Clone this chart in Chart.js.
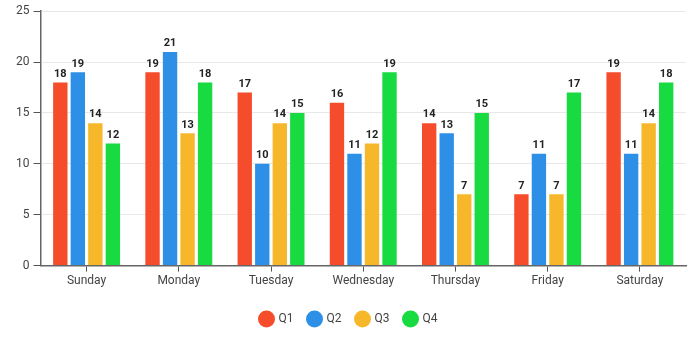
<!DOCTYPE html>
<html>
<head>
<meta charset="utf-8">
<script src="https://cdn.jsdelivr.net/npm/chart.js@4/dist/chart.umd.min.js"></script>
<style>
  html, body { margin: 0; padding: 0; background: #fff; }
  #wrap { width: 700px; height: 338px; }
</style>
</head>
<body>
<div id="wrap"><canvas id="chart"></canvas></div>
<script>
// Data
const days = ["Sunday", "Monday", "Tuesday", "Wednesday", "Thursday", "Friday", "Saturday"];
const q1 = [18, 19, 17, 16, 14, 7, 19];
const q2 = [19, 21, 10, 11, 13, 11, 11];
const q3 = [14, 13, 14, 12, 7, 7, 14];
const q4 = [12, 18, 15, 19, 15, 17, 18];
const seriesNames = ["Q1", "Q2", "Q3", "Q4"];
const seriesColors = ["#f54d2b", "#2d8fe6", "#f6b82a", "#18da41"];

// Draw value labels above each bar
const valueLabels = {
  id: "valueLabels",
  afterDatasetsDraw(chart) {
    const ctx = chart.ctx;
    ctx.save();
    ctx.font = "bold 11px Roboto";
    ctx.fillStyle = "#222";
    ctx.textAlign = "center";
    ctx.textBaseline = "bottom";
    chart.data.datasets.forEach((ds, i) => {
      chart.getDatasetMeta(i).data.forEach((bar, j) => {
        ctx.fillText(ds.data[j], bar.x, bar.y - 3);
      });
    });
    ctx.restore();
  }
};

const allSeries = [q1, q2, q3, q4];

new Chart(document.getElementById("chart"), {
  type: "bar",
  plugins: [valueLabels],
  data: {
    labels: days,
    datasets: allSeries.map((d, i) => ({
      label: seriesNames[i],
      data: d,
      backgroundColor: seriesColors[i],
      categoryPercentage: 0.76,
      barPercentage: 0.82,
    })),
  },
  options: {
    responsive: true,
    maintainAspectRatio: false,
    animation: false,
    layout: { padding: { top: 4, right: 14, left: 12, bottom: 3 } },
    plugins: {
      tooltip: { enabled: false },
      legend: {
        position: "bottom",
        labels: {
          usePointStyle: true,
          pointStyle: "circle",
          boxWidth: 12,
          boxHeight: 12,
          padding: 15,
          color: "#444",
          font: { family: "Roboto", size: 12 },
        },
      },
    },
    scales: {
      x: {
        // extra room between the day labels and the legend
        afterFit: (scale) => { scale.height += 8; },
        border: { color: "#666", width: 1.5 },
        grid: { drawOnChartArea: false, offset: false, tickLength: 6, tickColor: "#555" },
        ticks: { color: "#444", font: { family: "Roboto", size: 12 }, padding: 2 },
      },
      y: {
        min: 0,
        max: 25,
        border: { color: "#666", width: 1.5 },
        grid: { color: "#e8e8e8", tickLength: 7, tickColor: "#555" },
        ticks: { stepSize: 5, color: "#444", font: { family: "Roboto", size: 12 }, padding: 4 },
      },
    },
  },
});
</script>
</body>
</html>
